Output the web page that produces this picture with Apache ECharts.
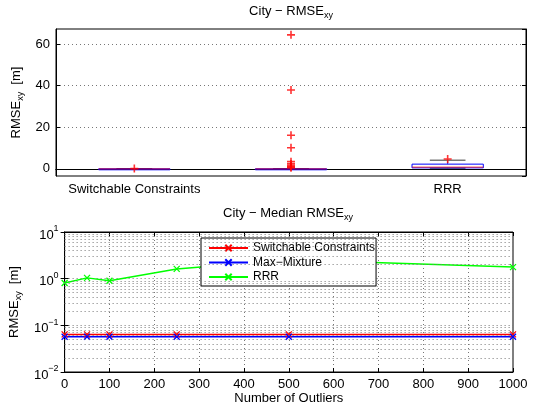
<!DOCTYPE html>
<html>
<head>
<meta charset="utf-8">
<script src="https://cdn.jsdelivr.net/npm/echarts@6/dist/echarts.min.js"></script>
<style>
html, body { margin: 0; padding: 0; background: #fff; }
#chart { width: 537px; height: 408px; }
</style>
</head>
<body>
<div id="chart"></div>
<script>
// top panel: RMSE_xy box plot per method
const boxCategories = ['Switchable Constraints', 'Max\u2212Mixture', 'RRR'];
const boxLowWhisker = [0.05, 0.05, 0.35];
const boxQ1 = [0.055, 0.055, 0.5];
const boxMedian = [0.06, 0.058, 0.85];
const boxQ3 = [0.065, 0.065, 2.3];
const boxHighWhisker = [0.07, 0.07, 4.2];
const outliersSC = [0.15];
const outliersMM = [64.4, 37.9, 16.2, 10.2, 3.5, 2.4, 1.6, 1.0, 0.6];
const outliersRRR = [4.8];

// bottom panel: median RMSE_xy vs number of outliers
const outlierCounts = [0, 50, 100, 250, 500, 1000];
const medianSC = [0.064, 0.064, 0.064, 0.064, 0.064, 0.064];
const medianMM = [0.057, 0.057, 0.057, 0.057, 0.057, 0.057];
const medianRRR = [0.81, 1.04, 0.9, 1.62, 2.55, 1.77];
const seriesNames = ['Switchable Constraints', 'Max\u2212Mixture', 'RRR'];

// log axis decades and minor grid factors
const decades = [0.01, 0.1, 1];
const minorFactors = [2, 3, 4, 5, 6, 7, 8, 9];

const FONT = 'Liberation Sans, Arial, sans-serif';
const frameLine = { show: true, lineStyle: { color: '#000', width: 1 } };
const tickIn = { show: true, inside: true, length: 4, lineStyle: { color: '#000' } };
const dotted = { show: true, showMinLine: false, showMaxLine: false,
  lineStyle: { color: '#777', type: [1, 3], width: 1 } };
const plusSymbol = 'path://M3.2,0H4.8V3.2H8V4.8H4.8V8H3.2V4.8H0V3.2H3.2Z';
const crossSymbol = 'path://M0,0L10,10M10,0L0,10';

const nameRich = {
  a: { fontSize: 13, fontFamily: FONT, color: '#000' },
  s: { fontSize: 9, fontFamily: FONT, color: '#000', verticalAlign: 'bottom', padding: [8, 0, 0, 0] }
};
const yName = '{a|RMSE}{s|xy}{a|  [m]}';

const outlierData = [];
outliersSC.forEach(v => outlierData.push([0, v]));
outliersMM.forEach(v => outlierData.push([1, v]));
outliersRRR.forEach(v => outlierData.push([2, v]));

const minorValues = [];
decades.forEach(d => minorFactors.forEach(k => minorValues.push(+(k * d).toPrecision(3))));

const lineColors = ['#ff0000', '#0000ff', '#00ff00'];
const lineData = [medianSC, medianMM, medianRRR];

const chart = echarts.init(document.getElementById('chart'));

const option = {
  animation: false,
  backgroundColor: '#fff',
  textStyle: { fontFamily: FONT },
  title: [
    {
      text: 'City \u2212 RMSE{s|xy}',
      left: 291, top: 3, textAlign: 'center', padding: 0,
      textStyle: { fontSize: 13, fontWeight: 'normal', color: '#000', fontFamily: FONT, rich: nameRich }
    },
    {
      text: 'City \u2212 Median RMSE{s|xy}',
      left: 288, top: 205, textAlign: 'center', padding: 0,
      textStyle: { fontSize: 13, fontWeight: 'normal', color: '#000', fontFamily: FONT, rich: nameRich }
    }
  ],
  grid: [
    { left: 56, right: 11, top: 29, height: 147, show: true, backgroundColor: '#fff', borderColor: '#000', borderWidth: 1 },
    { left: 63, right: 24, top: 232, height: 140, show: true, backgroundColor: '#fff', borderColor: '#000', borderWidth: 1 }
  ],
  legend: {
    data: seriesNames,
    orient: 'vertical',
    left: 201, top: 238,
    itemWidth: 39, itemHeight: 8, itemGap: 2.5,
    padding: [4, 1, 3, 7],
    backgroundColor: '#fff', borderColor: '#000', borderWidth: 1,
    textStyle: { fontSize: 12, color: '#000', fontFamily: FONT }
  },
  xAxis: [
    {
      type: 'category', gridIndex: 0, data: boxCategories, boundaryGap: true,
      axisLine: frameLine, axisTick: { show: false },
      axisLabel: { fontSize: 13, color: '#000', margin: 7, fontFamily: FONT }
    },
    {
      type: 'category', gridIndex: 0, data: boxCategories, position: 'top',
      axisLine: frameLine, axisTick: { show: false }, axisLabel: { show: false }
    },
    {
      type: 'value', gridIndex: 1, min: 0, max: 1000, interval: 100,
      axisLine: frameLine, axisTick: tickIn, splitLine: dotted,
      axisLabel: { fontSize: 13, color: '#000', margin: 6, fontFamily: FONT, formatter: v => String(v) },
      name: 'Number of Outliers', nameLocation: 'middle', nameGap: 20,
      nameTextStyle: { fontSize: 13, color: '#000', fontFamily: FONT }
    },
    {
      type: 'value', gridIndex: 1, min: 0, max: 1000, interval: 100, position: 'top',
      axisLine: frameLine, axisTick: tickIn, axisLabel: { show: false }, splitLine: { show: false }
    }
  ],
  yAxis: [
    {
      type: 'value', gridIndex: 0, min: -3.4, max: 67.2, splitNumber: 3, minInterval: 20, maxInterval: 20,
      axisLine: frameLine, axisTick: tickIn, splitLine: dotted,
      axisLabel: { fontSize: 13, color: '#000', margin: 6, showMinLabel: false, showMaxLabel: false, fontFamily: FONT },
      name: yName, nameLocation: 'middle', nameGap: 25,
      nameTextStyle: { rich: nameRich }
    },
    {
      type: 'value', gridIndex: 0, min: -3.4, max: 67.2, splitNumber: 3, minInterval: 20, maxInterval: 20, position: 'right',
      axisLine: frameLine, axisTick: tickIn, axisLabel: { show: false }, splitLine: { show: false }
    },
    {
      type: 'log', logBase: 10, gridIndex: 1, min: 0.01, max: 10,
      axisLine: frameLine, axisTick: tickIn, splitLine: dotted,
      axisLabel: {
        margin: 6,
        formatter: v => {
          const e = Math.round(Math.log10(v));
          return '{b|10}{e|' + (e < 0 ? '\u2212' + (-e) : e) + '}';
        },
        rich: {
          b: { fontSize: 13, color: '#000', fontFamily: FONT, padding: [6, 0, 0, 0] },
          e: { fontSize: 9, color: '#000', fontFamily: FONT, padding: [0, 0, 6, 0] }
        }
      },
      name: yName, nameLocation: 'middle', nameGap: 31,
      nameTextStyle: { rich: nameRich }
    },
    {
      type: 'log', logBase: 10, gridIndex: 1, min: 0.01, max: 10, position: 'right',
      axisLine: frameLine, axisTick: tickIn, axisLabel: { show: false }, splitLine: { show: false }
    }
  ],
  series: [
    {
      type: 'custom',
      xAxisIndex: 0, yAxisIndex: 0,
      data: boxCategories.map((c, i) => [i, boxLowWhisker[i], boxQ1[i], boxMedian[i], boxQ3[i], boxHighWhisker[i]]),
      encode: { x: 0, y: [1, 2, 3, 4, 5] },
      z: 3,
      renderItem: (params, api) => {
        const idx = api.value(0);
        const lo = api.coord([idx, api.value(1)]);
        const q1 = api.coord([idx, api.value(2)]);
        const med = api.coord([idx, api.value(3)]);
        const q3 = api.coord([idx, api.value(4)]);
        const hi = api.coord([idx, api.value(5)]);
        const w = api.size([1, 0])[0] * 0.455;
        const cx = med[0];
        const blue = { stroke: '#0000ff', lineWidth: 1, fill: null };
        return {
          type: 'group',
          children: [
            { type: 'line', shape: { x1: cx, y1: q3[1], x2: cx, y2: hi[1] }, style: { stroke: '#4040c0', lineWidth: 1, lineDash: [3, 2] } },
            { type: 'line', shape: { x1: cx, y1: q1[1], x2: cx, y2: lo[1] }, style: { stroke: '#4040c0', lineWidth: 1, lineDash: [3, 2] } },
            { type: 'line', shape: { x1: cx - w / 4, y1: hi[1], x2: cx + w / 4, y2: hi[1] }, style: { stroke: '#333', lineWidth: 1 } },
            { type: 'line', shape: { x1: cx - w / 4, y1: lo[1], x2: cx + w / 4, y2: lo[1] }, style: { stroke: '#333', lineWidth: 1 } },
            { type: 'rect', shape: { x: cx - w / 2, y: q3[1], width: w, height: Math.max(q1[1] - q3[1], 1) }, style: blue },
            { type: 'line', shape: { x1: cx - w / 2, y1: med[1], x2: cx + w / 2, y2: med[1] }, style: { stroke: 'rgba(255,0,0,0.6)', lineWidth: 1.2 } }
          ]
        };
      }
    },
    {
      type: 'scatter',
      xAxisIndex: 0, yAxisIndex: 0,
      data: outlierData,
      symbol: plusSymbol, symbolSize: 8,
      itemStyle: { color: '#ff0000' },
      z: 4
    },
    ...seriesNames.map((name, s) => ({
      name: name,
      type: 'line',
      xAxisIndex: 2, yAxisIndex: 2,
      data: outlierCounts.map((x, i) => [x, lineData[s][i]]),
      symbol: crossSymbol, symbolSize: 6, showSymbol: true,
      lineStyle: { color: lineColors[s], width: 1.5 },
      itemStyle: { color: lineColors[s], borderColor: lineColors[s], borderWidth: 1.3 },
      z: 3
    })),
    {
      type: 'line',
      xAxisIndex: 2, yAxisIndex: 2,
      data: [],
      silent: true,
      z: 1,
      markLine: {
        silent: true,
        symbol: ['none', 'none'],
        label: { show: false },
        lineStyle: { color: '#777', type: [1, 3], width: 1 },
        data: minorValues.map(v => ({ yAxis: v }))
      }
    }
  ]
};

chart.setOption(option);
</script>
</body>
</html>
